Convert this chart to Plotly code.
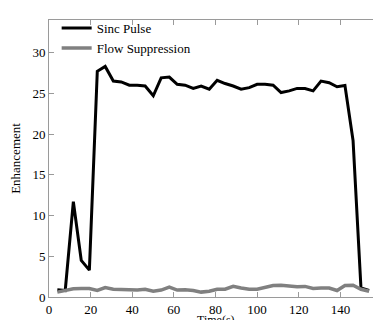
import plotly.graph_objects as go

time_s = [4.0, 7.8, 11.7, 15.5, 19.4, 23.2, 27.0, 30.9, 34.7, 38.6,
          42.4, 46.2, 50.1, 53.9, 57.8, 61.6, 65.4, 69.3, 73.1, 77.0,
          80.8, 84.6, 88.5, 92.3, 96.2, 100.0, 103.8, 107.7, 111.5, 115.4,
          119.2, 123.0, 126.9, 130.7, 134.6, 138.4, 142.2, 146.1, 149.9, 153.8]

sinc_pulse = [0.9, 0.8, 11.7, 4.5, 3.3, 27.7, 28.3, 26.5, 26.4, 26.0,
              26.0, 25.9, 24.7, 26.9, 27.0, 26.1, 26.0, 25.6, 25.9, 25.5,
              26.6, 26.2, 25.9, 25.5, 25.7, 26.1, 26.1, 26.0, 25.1, 25.3,
              25.6, 25.6, 25.3, 26.5, 26.3, 25.8, 25.95, 19.2, 1.1, 0.8]

flow_suppression = [0.6, 0.8, 1.0, 1.05, 1.05, 0.8, 1.15, 0.95, 0.9, 0.8,
                    0.85, 0.95, 0.7, 0.85, 1.2, 0.85, 0.9, 0.8, 0.6, 0.7,
                    0.95, 0.95, 1.3, 1.1, 0.95, 0.95, 1.15, 1.4, 1.45, 1.3,
                    1.25, 1.3, 1.05, 1.1, 1.1, 0.8, 1.4, 1.45, 0.95, 0.7]

x_ticks = [0, 20, 40, 60, 80, 100, 120, 140, 160]
y_ticks = [0, 5, 10, 15, 20, 25, 30]

font = "Liberation Serif, Times New Roman, serif"

fig = go.Figure()
fig.add_trace(go.Scatter(x=time_s, y=sinc_pulse, mode="lines", name="Sinc Pulse",
                         line=dict(color="black", width=3)))
fig.add_trace(go.Scatter(x=time_s, y=flow_suppression, mode="lines", name="Flow Suppression",
                         line=dict(color="#808080", width=3.5)))

axis_common = dict(showgrid=False, zeroline=False, showline=True, linecolor="#9a9a9a",
                   linewidth=1, mirror="ticks", ticks="inside", ticklen=5, automargin=False,
                   tickcolor="#9a9a9a", tickfont=dict(family=font, size=13, color="black"))

fig.update_layout(
    width=381, height=320,
    margin=dict(l=41, r=7, t=12, b=31, autoexpand=False),
    paper_bgcolor="white", plot_bgcolor="white",
    font=dict(family=font, size=13, color="black"),
    xaxis=dict(range=[0, 160], tickvals=x_ticks, **axis_common),
    yaxis=dict(range=[0, 34], tickvals=y_ticks,
               title=dict(text="Enhancement", standoff=8, font=dict(family=font, size=13)),
               **axis_common),
    legend=dict(x=0.023, y=1.025, xanchor="left", yanchor="top",
                bgcolor="rgba(0,0,0,0)", font=dict(family=font, size=13),
                tracegroupgap=0, itemwidth=30),
    showlegend=True,
    annotations=[dict(text="Time(s)", xref="paper", yref="paper", x=0.5, y=-0.1119,
                      xanchor="center", yanchor="bottom", showarrow=False, borderpad=0,
                      font=dict(family=font, size=12, color="black"))],
)

fig.write_html("out.html")
